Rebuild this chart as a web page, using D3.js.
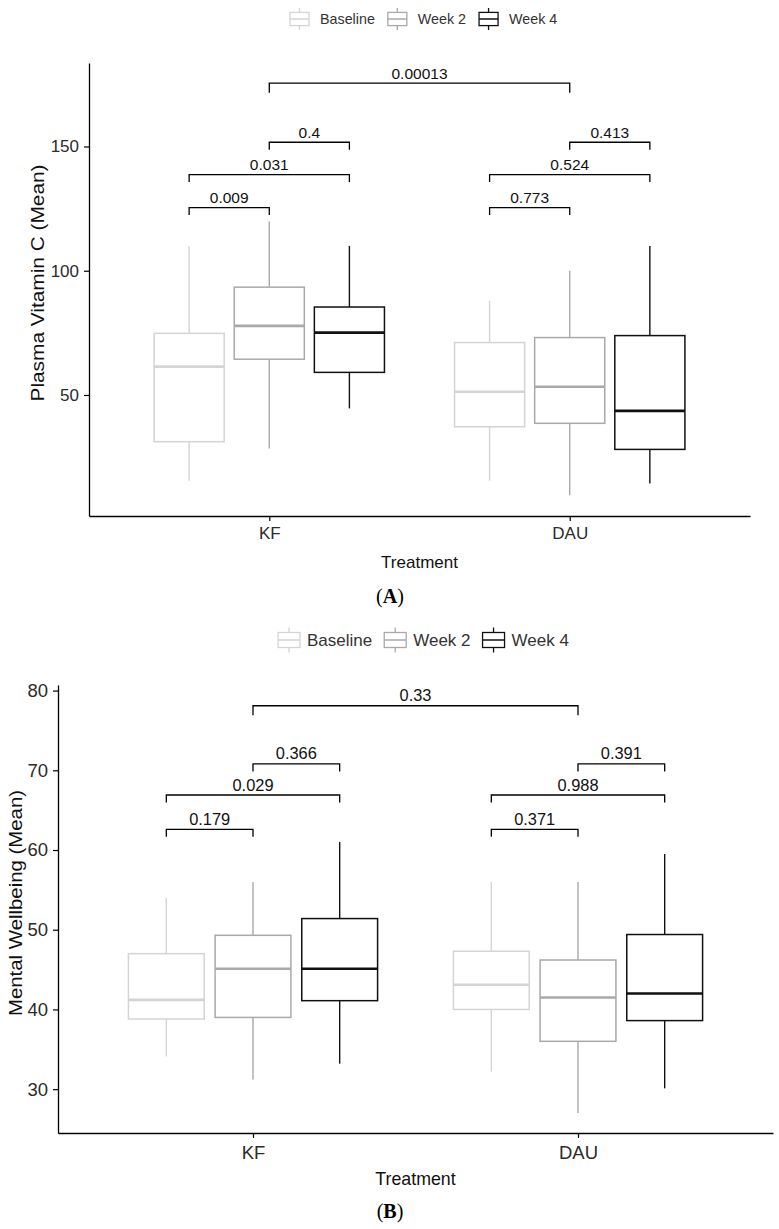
<!DOCTYPE html>
<html>
<head>
<meta charset="utf-8">
<script src="https://cdn.jsdelivr.net/npm/d3@7"></script>
<style>
  body { margin: 0; background: #fff; }
  svg text { font-family: "Liberation Sans", Arial, sans-serif; }
</style>
</head>
<body>
<svg id="fig" width="779" height="1229"></svg>
<script>
/**
 * Data
 */
const treatments = ["KF", "DAU"]
const timepoints = ["Baseline", "Week 2", "Week 4"]

// box stats per timepoint: [lower whisker, q1, median, q3, upper whisker]
const vitcKF = [[15.5, 31.2, 61.4, 74.8, 110], [28.5, 64.4, 77.8, 93.4, 119.8], [44.6, 59.1, 75.1, 85.4, 110]]
const vitcDAU = [[15.5, 37.2, 51.3, 71.1, 88], [9.7, 38.6, 53.3, 73.1, 100], [14.4, 28.1, 43.6, 73.9, 110]]
const wellKF = [[34.1, 38.8, 41.2, 47.0, 54.0], [31.2, 39.0, 45.1, 49.3, 56.0], [33.2, 41.1, 45.1, 51.4, 61.0]]
const wellDAU = [[32.2, 40.0, 43.1, 47.3, 56.0], [27.0, 36.0, 41.5, 46.2, 56.0], [30.1, 38.6, 42.0, 49.4, 59.5]]

// pairwise comparisons within each treatment
const pairs = [["Baseline", "Week 2"], ["Baseline", "Week 4"], ["Week 2", "Week 4"]]
const vitcPKF = ["0.009", "0.031", "0.4"]
const vitcPDAU = ["0.773", "0.524", "0.413"]
const vitcPBetween = "0.00013"
const vitcBracketY = [125.4, 138.7, 151.7]
const vitcBetweenY = 175.5

const wellPKF = ["0.179", "0.029", "0.366"]
const wellPDAU = ["0.371", "0.988", "0.391"]
const wellPBetween = "0.33"
const wellBracketY = [62.6, 66.9, 70.8]
const wellBetweenY = 78.1

const vitcTicks = [50, 100, 150]
const wellTicks = [30, 40, 50, 60, 70, 80]

/**
 * Styles
 */
const greys = d3.scaleOrdinal().domain(timepoints).range(["#d4d4d4", "#a9a9a9", "#111111"])
const svg = d3.select("#fig")

/**
 * Panel drawing
 */
const drawPanel = (p) => {
    const g = svg.append("g")

    const x = d3.scalePoint().domain(treatments).range([p.left, p.right]).padding(0.6)
    const y = d3.scaleLinear().domain(p.yDomain).range([p.bottom, p.top])
    const step = x.step()
    const dodge = d3.scalePoint().domain(timepoints).range([-step * 0.2667, step * 0.2667])
    const boxW = step * 0.2333

    // flatten stats into rows
    const rows = []
    treatments.forEach((t, i) => {
        p.stats[i].forEach((s, j) => {
            rows.push({ t, tp: timepoints[j], lo: s[0], q1: s[1], med: s[2], q3: s[3], hi: s[4] })
        })
    })

    const box = g.selectAll("g.box")
        .data(rows)
        .join("g")
            .attr("class", "box")
            .attr("transform", d => `translate(${x(d.t) + dodge(d.tp)},0)`)
            .attr("stroke", d => greys(d.tp))
            .attr("fill", "none")

    // whiskers
    box.append("line")
        .attr("y1", d => y(d.hi)).attr("y2", d => y(d.q3))
        .attr("stroke-width", 1.4)
    box.append("line")
        .attr("y1", d => y(d.q1)).attr("y2", d => y(d.lo))
        .attr("stroke-width", 1.4)

    // box
    box.append("rect")
        .attr("x", -boxW / 2)
        .attr("width", boxW)
        .attr("y", d => y(d.q3))
        .attr("height", d => y(d.q1) - y(d.q3))
        .attr("fill", "#fff")
        .attr("stroke-width", 1.5)

    // median
    box.append("line")
        .attr("x1", -boxW / 2).attr("x2", boxW / 2)
        .attr("y1", d => y(d.med)).attr("y2", d => y(d.med))
        .attr("stroke-width", 2.6)

    // significance brackets
    const brackets = []
    treatments.forEach((t, i) => {
        pairs.forEach((pr, k) => {
            brackets.push({
                x1: x(t) + dodge(pr[0]),
                x2: x(t) + dodge(pr[1]),
                yv: p.bracketY[k],
                label: p.pvals[i][k],
                tip: 7.5
            })
        })
    })
    brackets.push({ x1: x(treatments[0]), x2: x(treatments[1]), yv: p.betweenY, label: p.between, tip: 9.5 })

    const br = g.selectAll("g.bracket")
        .data(brackets)
        .join("g")
            .attr("class", "bracket")

    br.append("path")
        .attr("d", d => `M${d.x1},${y(d.yv) + d.tip}V${y(d.yv)}H${d.x2}V${y(d.yv) + d.tip}`)
        .attr("fill", "none")
        .attr("stroke", "#000")
        .attr("stroke-width", 1.3)

    br.append("text")
        .attr("x", d => (d.x1 + d.x2) / 2)
        .attr("y", d => y(d.yv) - 4.5)
        .attr("text-anchor", "middle")
        .attr("font-size", p.pFont)
        .attr("fill", "#111")
        .text(d => d.label)

    // axes
    const yAxis = g.append("g")
        .attr("transform", `translate(${p.left},0)`)
        .call(d3.axisLeft(y).tickValues(p.ticks).tickSize(5).tickSizeOuter(0).tickPadding(5))
    const xAxis = g.append("g")
        .attr("transform", `translate(0,${p.bottom})`)
        .call(d3.axisBottom(x).tickSize(5).tickSizeOuter(0).tickPadding(p.xPad))

    ;[yAxis, xAxis].forEach(a => {
        a.select(".domain").attr("stroke", "#000").attr("stroke-width", 1.3)
        a.selectAll(".tick line").attr("stroke", "#000").attr("stroke-width", 1.2)
        a.selectAll(".tick text")
            .attr("font-size", p.tickFont)
            .attr("font-family", "Liberation Sans, Arial, sans-serif")
            .attr("fill", "#2b2b2b")
    })

    // axis titles
    g.append("text")
        .attr("x", (p.left + p.right) / 2)
        .attr("y", p.xTitleY)
        .attr("text-anchor", "middle")
        .attr("font-size", p.titleFont)
        .attr("fill", "#111")
        .text("Treatment")

    g.append("text")
        .attr("transform", `translate(${p.yTitleX},${p.yTitleY}) rotate(-90)`)
        .attr("dy", "0.35em")
        .attr("text-anchor", "middle")
        .attr("font-size", p.yTitleFont)
        .attr("textLength", p.yTitleLen)
        .attr("lengthAdjust", "spacingAndGlyphs")
        .attr("fill", "#111")
        .text(p.yTitle)

    // panel letter
    const letter = g.append("text")
        .attr("x", 390)
        .attr("y", p.letterY)
        .attr("text-anchor", "middle")
        .attr("font-size", 20)
        .style("font-family", "Liberation Serif, Times New Roman, serif")
    letter.append("tspan").text("(")
    letter.append("tspan").attr("font-weight", "bold").text(p.letter)
    letter.append("tspan").text(")")

    // legend
    const lg = g.append("g")
    let lx = p.legX
    timepoints.forEach(tp => {
        const k = lg.append("g")
            .attr("transform", `translate(${lx},${p.legY})`)
            .attr("stroke", greys(tp))
            .attr("fill", "none")
        k.append("line")
            .attr("x1", p.keyW / 2).attr("x2", p.keyW / 2)
            .attr("y1", -p.keyH / 2).attr("y2", p.keyH / 2)
            .attr("stroke-width", 1.3)
        k.append("rect")
            .attr("x", 0).attr("y", -p.keyH * 0.3)
            .attr("width", p.keyW).attr("height", p.keyH * 0.6)
            .attr("fill", "#fff")
            .attr("stroke-width", 1.3)
        k.append("line")
            .attr("x1", 0).attr("x2", p.keyW)
            .attr("stroke-width", 1.5)
        const t = lg.append("text")
            .attr("x", lx + p.keyW + p.keyGap)
            .attr("y", p.legY)
            .attr("dy", "0.35em")
            .attr("font-size", p.legFont)
            .attr("fill", "#333")
            .text(tp)
        lx += p.keyW + p.keyGap + t.node().getComputedTextLength() + p.itemGap
    })
}

drawPanel({
    stats: [vitcKF, vitcDAU],
    pvals: [vitcPKF, vitcPDAU],
    between: vitcPBetween,
    bracketY: vitcBracketY,
    betweenY: vitcBetweenY,
    ticks: vitcTicks,
    yDomain: [1.3, 183.6],
    left: 89, right: 750, top: 63, bottom: 516,
    tickFont: 17, pFont: 15.5, titleFont: 17, xPad: 6,
    xTitleY: 568,
    yTitle: "Plasma Vitamin C (Mean)", yTitleX: 38, yTitleY: 283, yTitleFont: 18, yTitleLen: 237,
    letter: "A", letterY: 603,
    legX: 290, legY: 19, keyW: 19, keyH: 22, keyGap: 11, itemGap: 13, legFont: 14.3
})

drawPanel({
    stats: [wellKF, wellDAU],
    pvals: [wellPKF, wellPDAU],
    between: wellPBetween,
    bracketY: wellBracketY,
    betweenY: wellBetweenY,
    ticks: wellTicks,
    yDomain: [24.5, 80.7],
    left: 58, right: 773, top: 685, bottom: 1133,
    tickFont: 18.5, pFont: 16.4, titleFont: 17.8, xPad: 8,
    xTitleY: 1185,
    yTitle: "Mental Wellbeing (Mean)", yTitleX: 15, yTitleY: 903, yTitleFont: 19, yTitleLen: 226,
    letter: "B", letterY: 1218,
    legX: 278, legY: 640, keyW: 22, keyH: 25, keyGap: 7, itemGap: 12, legFont: 17
})
</script>
</body>
</html>
